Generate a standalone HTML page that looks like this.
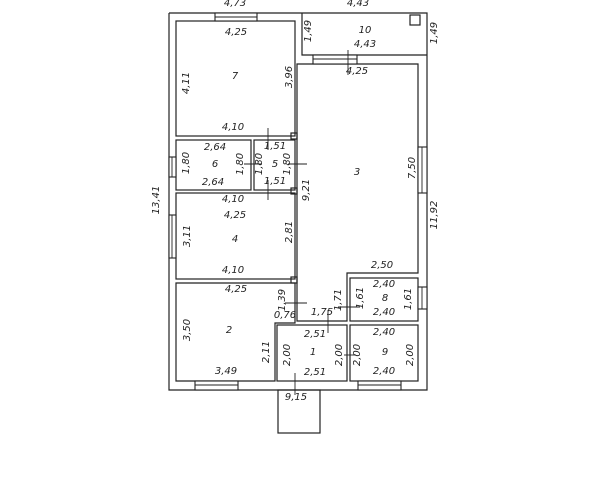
<!DOCTYPE html>
<html><head><meta charset="utf-8"><style>
html,body{margin:0;padding:0;background:#fff;width:603px;height:480px;overflow:hidden}
svg{display:block}
text{font-family:"DejaVu Sans","Liberation Sans",sans-serif;font-size:10px;font-style:italic;fill:#222;text-anchor:middle;dominant-baseline:middle}
</style></head><body>
<svg width="603" height="480" viewBox="0 0 603 480" xmlns="http://www.w3.org/2000/svg">
<g fill="none" stroke="#222" stroke-width="1.2">
<path d="M169,13 H302 M169,13 V390 H427 V13 H302 V55 H427"/>
<rect x="176" y="21" width="119" height="115"/>
<rect x="176" y="140" width="75" height="50"/>
<rect x="254" y="140" width="41" height="50"/>
<rect x="176" y="193" width="119" height="86"/>
<path d="M176,283 H295 V323 H275 V381 H176 Z"/>
<path d="M297,64 H418 V273 H347 V321 H297 Z"/>
<rect x="277" y="325" width="70" height="56"/>
<rect x="350" y="278" width="68" height="43"/>
<rect x="350" y="325" width="68" height="56"/>
<rect x="278" y="390" width="42" height="43"/>
<rect x="410" y="15" width="10" height="10"/>
<rect x="291" y="133" width="6" height="6"/>
<rect x="291" y="188" width="6" height="6"/>
<rect x="291" y="277" width="6" height="6"/>
</g>
<g fill="#fff" stroke="#222" stroke-width="1.1">
<rect x="215" y="13" width="42" height="8"/>
<rect x="313" y="55" width="44" height="9"/>
<rect x="169" y="157" width="7" height="20"/>
<rect x="169" y="215" width="7" height="43"/>
<rect x="418" y="147" width="9" height="46"/>
<rect x="418" y="287" width="9" height="22"/>
<rect x="195" y="381" width="43" height="9"/>
<rect x="358" y="381" width="43" height="9"/>
</g>
<g stroke="#222" stroke-width="0.9">
<line x1="215" y1="17" x2="257" y2="17"/><line x1="313" y1="59" x2="357" y2="59"/>
<line x1="172" y1="157" x2="172" y2="177"/><line x1="172" y1="215" x2="172" y2="258"/>
<line x1="422" y1="147" x2="422" y2="193"/><line x1="422" y1="287" x2="422" y2="309"/>
<line x1="195" y1="385" x2="238" y2="385"/><line x1="358" y1="385" x2="401" y2="385"/>
<line x1="348" y1="50" x2="348" y2="75"/>
<line x1="268" y1="128" x2="268" y2="150"/><line x1="268" y1="180" x2="268" y2="200"/>
<line x1="244" y1="164" x2="262" y2="164"/><line x1="288" y1="164" x2="307" y2="164"/>
<line x1="285" y1="303" x2="307" y2="303"/><line x1="338" y1="307" x2="360" y2="307"/>
<line x1="328" y1="310" x2="328" y2="333"/><line x1="295" y1="373" x2="295" y2="395"/>
<line x1="344" y1="355" x2="356" y2="355"/>
</g>
<text x="235" y="3">4,73</text><text x="358" y="3">4,43</text>
<text x="365" y="30">10</text><text x="365" y="44">4,43</text>
<text transform="translate(308,31) rotate(-90)">1,49</text>
<text transform="translate(434,33) rotate(-90)">1,49</text>
<text x="357" y="71">4,25</text>
<text x="236" y="32">4,25</text><text x="235" y="76">7</text>
<text transform="translate(186,83) rotate(-90)">4,11</text>
<text transform="translate(289,77) rotate(-90)">3,96</text>
<text x="233" y="127">4,10</text>
<text x="215" y="147">2,64</text><text x="215" y="164">6</text><text x="213" y="182">2,64</text>
<text transform="translate(186,163) rotate(-90)">1,80</text>
<text transform="translate(240,164) rotate(-90)">1,80</text>
<text x="275" y="146">1,51</text><text x="275" y="164">5</text><text x="275" y="181">1,51</text>
<text transform="translate(259,164) rotate(-90)">1,80</text>
<text transform="translate(287,164) rotate(-90)">1,80</text>
<text x="357" y="172">3</text>
<text transform="translate(412,168) rotate(-90)">7,50</text>
<text transform="translate(306,190) rotate(-90)">9,21</text>
<text transform="translate(156,200) rotate(-90)">13,41</text>
<text transform="translate(434,215) rotate(-90)">11,92</text>
<text x="233" y="199">4,10</text><text x="235" y="215">4,25</text><text x="235" y="239">4</text>
<text transform="translate(187,236) rotate(-90)">3,11</text>
<text transform="translate(289,232) rotate(-90)">2,81</text>
<text x="233" y="270">4,10</text>
<text x="382" y="265">2,50</text>
<text x="236" y="289">4,25</text>
<text transform="translate(282,300) rotate(-90)">1,39</text>
<text x="285" y="315">0,76</text>
<text transform="translate(187,330) rotate(-90)">3,50</text>
<text x="229" y="330">2</text>
<text transform="translate(266,352) rotate(-90)">2,11</text>
<text x="226" y="371">3,49</text>
<text transform="translate(338,300) rotate(-90)">1,71</text>
<text x="322" y="312">1,75</text>
<text x="384" y="284">2,40</text><text x="385" y="298">8</text><text x="384" y="312">2,40</text>
<text transform="translate(360,298) rotate(-90)">1,61</text>
<text transform="translate(408,299) rotate(-90)">1,61</text>
<text x="315" y="334">2,51</text><text x="313" y="352">1</text><text x="315" y="372">2,51</text>
<text transform="translate(287,355) rotate(-90)">2,00</text>
<text transform="translate(339,355) rotate(-90)">2,00</text>
<text x="384" y="332">2,40</text><text x="385" y="352">9</text><text x="384" y="371">2,40</text>
<text transform="translate(357,355) rotate(-90)">2,00</text>
<text transform="translate(410,355) rotate(-90)">2,00</text>
<text x="296" y="397">9,15</text>
</svg>
</body></html>
